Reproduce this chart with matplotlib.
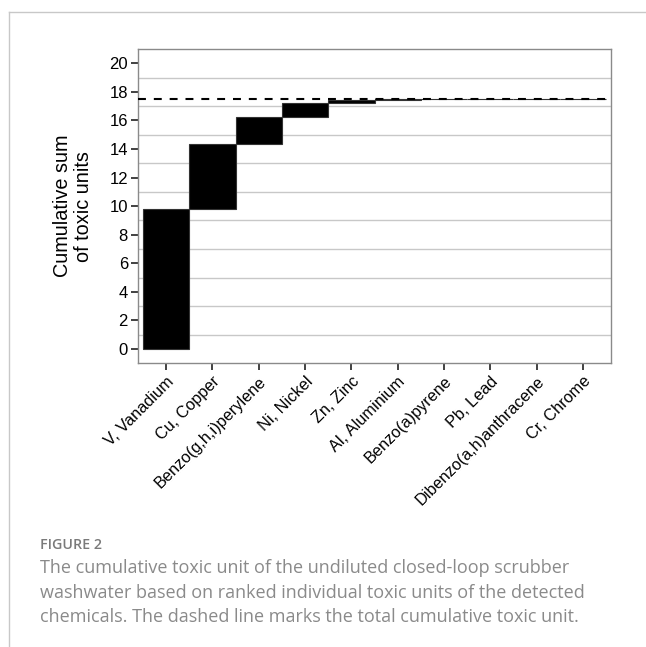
import matplotlib
matplotlib.use("Agg")
import matplotlib.pyplot as plt
from matplotlib.lines import Line2D
import numpy as np

categories = ["V, Vanadium", "Cu, Copper", "Benzo(g,h,i)perylene", "Ni, Nickel",
              "Zn, Zinc", "Al, Aluminium", "Benzo(a)pyrene", "Pb, Lead",
              "Dibenzo(a,h)anthracene", "Cr, Chrome"]
toxic_units = [9.80, 4.55, 1.88, 1.02, 0.17, 0.05, 0.02, 0.01, 0.005, 0.003]
y_ticks = [0, 2, 4, 6, 8, 10, 12, 14, 16, 18, 20]
grid_lines = [1, 3, 5, 7, 9, 11, 13, 15, 17, 19]

vals = np.array(toxic_units)
cum = np.cumsum(vals)
bottoms = cum - vals
total = cum[-1]
x = np.arange(1, len(categories) + 1)

plt.rcParams['font.family'] = ['Liberation Sans', 'DejaVu Sans']

fig = plt.figure(figsize=(6.46, 6.47), dpi=100)
ax = fig.add_axes([0.2141, 0.4385, 0.9454 - 0.2141, 0.9243 - 0.4385])

for g in grid_lines:
    ax.axhline(g, color='#c8c8c8', lw=1.0, zorder=0)

ax.bar(x, vals, bottom=bottoms, width=1.0, color='black', edgecolor='#333333',
       linewidth=0.8, zorder=2)
ax.axhline(total, color='black', lw=1.5, dashes=(3.8, 3.8), zorder=3)

ax.set_xlim(0.4, 10.6)
ax.set_ylim(-1, 21)
ax.set_yticks(y_ticks)
ax.set_xticks(x)
ax.set_xticklabels(categories, rotation=45, ha='right', va='top',
                   rotation_mode='anchor', fontsize=11.7, color='black')
ax.tick_params(axis='y', labelsize=12, labelcolor='black')
ax.tick_params(axis='both', color='#333333', width=1.3, length=5, pad=2.5)

for s in ax.spines.values():
    s.set_color('#8a8a8a')
    s.set_linewidth(1.0)

ax.set_ylabel("Cumulative sum\nof toxic units", fontsize=14.3, linespacing=1.1,
              labelpad=12)

# outer frame
fig.add_artist(Line2D([9 / 646, 9 / 646], [0, 1 - 12 / 647], color='#c8c8c8',
                      lw=1.0, transform=fig.transFigure))
fig.add_artist(Line2D([9 / 646, 1], [1 - 12 / 647, 1 - 12 / 647], color='#c8c8c8',
                      lw=1.0, transform=fig.transFigure))

cap_font = ['Open Sans', 'DejaVu Sans']
fig.text(40 / 646, 1 - 545 / 647, "FIGURE 2", fontsize=10.3, color='#7a7a7a',
         family=cap_font, weight='semibold', va='center', ha='left')
caption = ["The cumulative toxic unit of the undiluted closed-loop scrubber",
           "washwater based on ranked individual toxic units of the detected",
           "chemicals. The dashed line marks the total cumulative toxic unit."]
for i, line in enumerate(caption):
    fig.text(40 / 646, 1 - (568 + 24.5 * i) / 647, line, fontsize=13.0,
             color='#8a8a8a', family=cap_font, va='center', ha='left')

fig.savefig("out.png", dpi=100)
